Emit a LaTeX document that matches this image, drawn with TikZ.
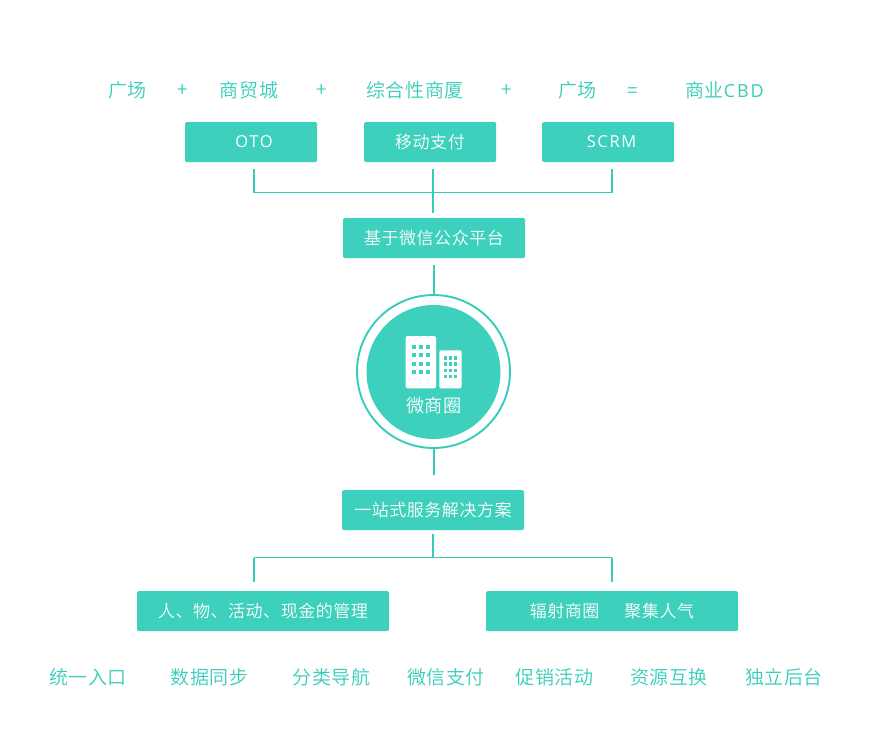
\documentclass[tikz,border=0pt]{standalone}
\usepackage{fontspec}
\setmainfont[LetterSpace=3]{Noto Sans CJK SC DemiLight}
\newfontfamily\latinf[LetterSpace=10]{Open Sans}
\definecolor{teal1}{HTML}{3DD0BC}
\definecolor{teal2}{HTML}{35CDB9}
\newcommand{\fsz}[1]{\fontsize{#1}{#1}\selectfont}
\tikzset{
  x=1pt,y=-1pt,
  boxn/.style={fill=teal1,text=white,rounded corners=1.5pt,minimum height=40pt,inner sep=0pt,font=\fsz{17}},
  toptext/.style={text=teal2,inner sep=0pt,font=\fsz{19}},
  botext/.style={text=teal2,inner sep=0pt,font=\fsz{19}},
  vline/.style={draw=teal2,line width=1.9pt},
  hline/.style={draw=teal2,line width=1.3pt},
}
\begin{document}
\begin{tikzpicture}
\useasboundingbox (0,0) rectangle (870,750);
% top row
\foreach \n/\x/\t in {t1/127.5/广场,t2/249/商贸城,t3/415/综合性商厦,t4/577.5/广场}
  \node[toptext] (\n) at (\x,90) {\t};
\foreach \n/\x in {p1/183,p2/321.5,p3/507}
  \node[toptext] (\n) at (\x,91) {+};
\node[toptext] (e1) at (632.5,93) {=};
\node[toptext] (t5) at (724.5,90) {商业{\latinf\fsz{18}CBD}};
% boxes
\node[boxn,minimum width=132pt] (oto) at (251,142) {\raisebox{-2pt}{\hspace*{6pt}{\latinf\fsz{16.5}OTO}}};
\node[boxn,minimum width=132pt] (pay) at (430,142) {\raisebox{-1.5pt}{移动支付}};
\node[boxn,minimum width=132pt] (scrm) at (608,142) {\raisebox{-2pt}{\hspace*{7pt}{\latinf\fsz{16.5}SCRM}}};
\node[boxn,minimum width=182pt] (wx) at (434,238) {\raisebox{-1.5pt}{基于微信公众平台}};
\node[boxn,minimum width=182pt] (one) at (433,510) {\raisebox{-1.5pt}{一站式服务解决方案}};
\node[boxn,minimum width=252pt] (mg) at (263,611) {\raisebox{-1.5pt}{人、物、活动、现金的管理}};
\node[boxn,minimum width=252pt] (fs) at (612,611) {\raisebox{-1.5pt}{辐射商圈\hspace{25pt}聚集人气}};
% circle
\node[circle,draw=teal2,line width=1.9pt,minimum size=153pt,inner sep=0pt] (ring) at (433.5,371.5) {};
\node[circle,fill=teal1,minimum size=134pt,inner sep=0pt] (disk) at (433.5,372) {};
\node[text=white,inner sep=0pt,font=\fsz{18.2}] (wsq) at (434,406) {微商圈};
% icon
\fill[white,rounded corners=1.5pt] (405.7,336) rectangle (436,388.3);
\fill[white,rounded corners=1.5pt] (439.3,350.3) rectangle (461.7,388.3);
\foreach \x in {414,421,428} \foreach \y in {346.7,355,363.7,372.3}
  \fill[teal1] (\x-2.1,\y-2.1) rectangle (\x+2.1,\y+2.1);
\foreach \x in {445.5,450.5,455.3} \foreach \y in {358,364,370.3,376.7}
  \fill[teal1] (\x-1.6,\y-1.6) rectangle (\x+1.6,\y+1.6);
% connector ends
\coordinate (a1) at (254,169);
\coordinate (a2) at (433,169);
\coordinate (a3) at (612,169);
\coordinate (aj) at (433,192.5);
\coordinate (a4) at (433,212.7);
\coordinate (b1) at (434,265);
\coordinate (c1) at (434,448);
\coordinate (c2) at (434,474.5);
\coordinate (d1) at (433,534);
\coordinate (dj) at (433,557.5);
\coordinate (d2) at (254,582);
\coordinate (d3) at (612,582);
% connectors
\draw[vline] (a1) -- (a1|-aj);
\draw[vline] (a3) -- (a3|-aj);
\draw[vline] (a2) -- (a4);
\draw[hline] (a1|-aj) -- (a3|-aj);
\draw[vline] (b1) -- (b1|-ring.north);
\draw[vline] (c1) -- (c2);
\draw[vline] (d1) -- (dj);
\draw[hline] (d2|-dj) -- (d3|-dj);
\draw[vline] (d2|-dj) -- (d2);
\draw[vline] (d3|-dj) -- (d3);
% bottom row
\foreach \n/\x/\t in {u1/88/统一入口,u2/209.5/数据同步,u3/331.5/分类导航,u4/446/微信支付,u5/554.5/促销活动,u6/669/资源互换,u7/784/独立后台}
  \node[botext] (\n) at (\x,677) {\t};
\end{tikzpicture}
\end{document}
